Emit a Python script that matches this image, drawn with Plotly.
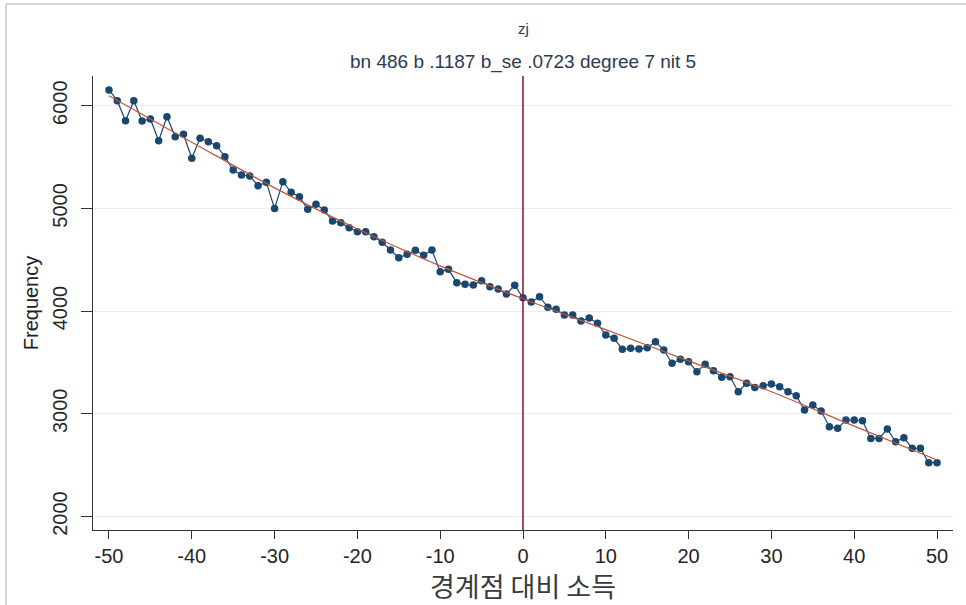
import plotly.graph_objects as go

# --- data ---
x_vals = list(range(-50, 51))
freq = [
    6153, 6049, 5854, 6049, 5851, 5870, 5659, 5893, 5698, 5722,   # -50..-41
    5488, 5683, 5649, 5611, 5503, 5374, 5325, 5315, 5220, 5255,   # -40..-31
    5000, 5260, 5157, 5114, 4991, 5040, 4984, 4877, 4861, 4812,   # -30..-21
    4773, 4773, 4724, 4670, 4595, 4520, 4553, 4592, 4543, 4595,   # -20..-11
    4384, 4407, 4277, 4261, 4254, 4296, 4238, 4215, 4167, 4251,   # -10..-1
    4130, 4089, 4140, 4037, 4018, 3962, 3962, 3904, 3933, 3881,   # 0..9
    3767, 3735, 3628, 3638, 3631, 3644, 3702, 3621, 3492, 3531,   # 10..19
    3507, 3410, 3482, 3420, 3356, 3361, 3215, 3297, 3256, 3274,   # 20..29
    3290, 3264, 3215, 3176, 3037, 3086, 3027, 2874, 2859, 2940,   # 30..39
    2940, 2933, 2761, 2761, 2852, 2728, 2767, 2664, 2664, 2524,   # 40..49
    2524,                                                        # 50
]
fit_x = [-50, -40, -30, -20, -10, 0, 10, 20, 30, 40, 50]
fit_y = [6097, 5645, 5200, 4800, 4440, 4120, 3820, 3515, 3215, 2880, 2550]

x_ticks = [-50, -40, -30, -20, -10, 0, 10, 20, 30, 40, 50]
x_tick_labels = ["-50", "-40", "-30", "-20", "-10", "0", "10", "20", "30", "40", "50"]
y_ticks = [2000, 3000, 4000, 5000, 6000]
y_tick_labels = ["2000", "3000", "4000", "5000", "6000"]

title_main = "zj"
title_sub = "bn 486 b .1187 b_se .0723 degree 7 nit 5"
x_title = "경계점 대비 소득"
y_title = "Frequency"

navy = "#1a476f"
fit_col = "#c2563f"
xline_col = "#8e1f3f"
font_fam = "Liberation Sans, Arial, sans-serif"

fig = go.Figure()
fig.add_trace(go.Scatter(
    x=x_vals, y=freq, mode="lines+markers",
    line=dict(color=navy, width=1.2),
    marker=dict(color=navy, size=7.5),
    showlegend=False, hoverinfo="x+y",
))
fig.add_trace(go.Scatter(
    x=fit_x, y=fit_y, mode="lines",
    line=dict(color=fit_col, width=1.2, shape="spline"),
    showlegend=False,
))

fig.update_layout(
    width=966, height=605,
    margin=dict(l=93, r=13, t=76, b=75),
    paper_bgcolor="white", plot_bgcolor="white",
    font=dict(family=font_fam, color="#222222"),
    xaxis=dict(
        range=[-51.93, 51.93], tickvals=x_ticks, ticktext=x_tick_labels,
        ticks="outside", ticklen=8, tickcolor="#333333", tickwidth=1.2,
        showline=True, linecolor="#333333", linewidth=1.2,
        showgrid=False, zeroline=False,
        tickfont=dict(size=20, color="#262626"),
        title=dict(text=x_title, standoff=2,
                   font=dict(size=27, color="#3a3a3a",
                             family="Noto Sans CJK KR, Noto Sans, sans-serif")),
    ),
    yaxis=dict(
        range=[1869, 6289], tickvals=y_ticks, ticktext=y_tick_labels,
        ticks="outside", ticklen=11, tickcolor="#333333", tickwidth=1.2,
        showline=True, linecolor="#333333", linewidth=1.2,
        showgrid=True, gridcolor="#ebebeb", gridwidth=1,
        zeroline=False, tickangle=-90,
        tickfont=dict(size=20, color="#262626"),
        ticklabelstandoff=6,
        title=dict(text=y_title, standoff=4,
                   font=dict(size=20, color="#222222")),
    ),
    shapes=[
        dict(type="line", xref="x", yref="paper", x0=0, x1=0, y0=0, y1=1,
             line=dict(color=xline_col, width=1.6)),
        dict(type="line", xref="paper", yref="paper", x0=-0.1012, x1=1.02,
             y0=1.1586, y1=1.1586, line=dict(color="#d4d4d4", width=2)),
        dict(type="line", xref="paper", yref="paper", x0=-0.1012, x1=-0.1012,
             y0=1.1586, y1=-0.17, line=dict(color="#d4d4d4", width=2)),
    ],
    annotations=[
        dict(text=title_main, xref="paper", yref="paper", x=0.5, y=1.1057,
             showarrow=False, xanchor="center", yanchor="middle",
             font=dict(size=15, color="#2b3a55")),
        dict(text=title_sub, xref="paper", yref="paper", x=0.5, y=1.0308,
             showarrow=False, xanchor="center", yanchor="middle",
             font=dict(size=19, color="#2b3a55")),
    ],
)

fig.write_html("out.html")
